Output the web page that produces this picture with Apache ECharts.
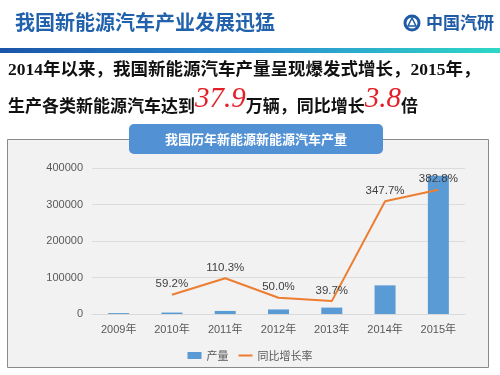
<!DOCTYPE html>
<html>
<head>
<meta charset="utf-8">
<script src="https://cdn.jsdelivr.net/npm/echarts@6/dist/echarts.min.js"></script>
<style>
  html, body { margin: 0; padding: 0; background: #fff; }
  #main { width: 500px; height: 375px; }
</style>
</head>
<body>
<div id="main"></div>
<script>
// 数据
const years = ['2009年', '2010年', '2011年', '2012年', '2013年', '2014年', '2015年'];
const output = [2499, 3979, 8368, 12552, 17533, 78499, 378980];
const growth = [null, 59.2, 110.3, 50.0, 39.7, 347.7, 382.8];

const CJK = '"Noto Sans CJK SC", sans-serif';
const SANS = '"Liberation Sans", "Noto Sans CJK SC", sans-serif';

const chart = echarts.init(document.getElementById('main'));

chart.setOption({
  animation: false,
  color: ['#5B9BD5', '#ED7D31'],
  textStyle: { fontFamily: SANS },
  graphic: [
    // 标题
    {
      type: 'text', left: 15, top: 12,
      style: { text: '我国新能源汽车产业发展迅猛', fill: '#2262AC', font: 'bold 20px ' + CJK }
    },
    // logo
    {
      type: 'circle', shape: { cx: 412, cy: 23, r: 7 },
      style: { fill: '#fff', stroke: '#1E5AA6', lineWidth: 3 }
    },
    {
      type: 'polygon', shape: { points: [[412, 18], [408, 26], [416, 26]] },
      style: { fill: 'none', stroke: '#1E5AA6', lineWidth: 1.5 }
    },
    {
      type: 'text', left: 426, top: 14,
      style: { text: '中国汽研', fill: '#1E5AA6', font: 'bold 17px ' + CJK }
    },
    // 渐变条
    {
      type: 'rect', shape: { x: 0, y: 48, width: 500, height: 5 },
      style: {
        fill: new echarts.graphic.LinearGradient(0, 0, 1, 0, [
          { offset: 0, color: '#1A55A8' },
          { offset: 0.5, color: '#2A8AD0' },
          { offset: 1, color: '#2ED8C6' }
        ])
      }
    },
    // 文字说明
    {
      type: 'text', left: 8, top: 62,
      style: {
        text: '2014年以来，我国新能源汽车产量呈现爆发式增长，2015年，',
        fill: '#111', font: 'bold 17.5px "Liberation Serif", "Noto Sans CJK SC", serif'
      }
    },
    {
      type: 'text', left: 8, top: 85,
      style: {
        text: '{a|生产各类新能源汽车达到}{r|37.9}{a|万辆，同比增长}{r|3.8}{a|倍}',
        rich: {
          a: { fill: '#111', font: 'bold 17px ' + CJK, verticalAlign: 'bottom' },
          r: { fill: '#E3202A', font: 'italic 29px "Liberation Serif", serif', verticalAlign: 'bottom' }
        }
      }
    },
    // 图表面板
    {
      type: 'rect', shape: { x: 7.5, y: 139.5, width: 481, height: 228 },
      style: { fill: '#F2F2F2', stroke: '#8A8A8A', lineWidth: 1 }
    },
    {
      type: 'rect', shape: { x: 129, y: 124, width: 254, height: 30, r: 5 },
      style: { fill: '#5291D4' }
    },
    {
      type: 'text', x: 256, y: 139,
      style: {
        text: '我国历年新能源新能源汽车产量', fill: '#fff',
        font: 'bold 13px ' + CJK, align: 'center', verticalAlign: 'middle'
      }
    }
  ],
  grid: { left: 92, right: 35, top: 168, bottom: 61 },
  legend: {
    bottom: 9, left: 'center',
    itemWidth: 14, itemHeight: 7, itemGap: 10,
    textStyle: { color: '#595959', fontSize: 11, fontFamily: CJK },
    data: [
      { name: '产量', icon: 'rect' },
      { name: '同比增长率', icon: 'path://M0,3 L14,3 L14,5 L0,5 Z' }
    ]
  },
  xAxis: {
    type: 'category',
    data: years,
    axisLine: { lineStyle: { color: '#D9D9D9' } },
    axisTick: { show: false },
    axisLabel: { color: '#595959', fontSize: 11, margin: 10 }
  },
  yAxis: [
    {
      type: 'value', min: 0, max: 400000, interval: 100000,
      axisLine: { show: false }, axisTick: { show: false },
      axisLabel: { color: '#595959', fontSize: 11, margin: 9, formatter: v => String(v) },
      splitLine: { lineStyle: { color: '#DCDCDC' } }
    },
    {
      type: 'value', min: 0, max: 450, show: false,
      splitLine: { show: false }
    }
  ],
  series: [
    {
      name: '产量', type: 'bar', data: output, barWidth: 21,
      itemStyle: { color: '#5B9BD5' }
    },
    {
      name: '同比增长率', type: 'line', yAxisIndex: 1, data: growth,
      symbol: 'circle', symbolSize: 0, showSymbol: true, connectNulls: false, z: 3,
      lineStyle: { color: '#ED7D31', width: 2 },
      itemStyle: { color: '#ED7D31' },
      label: {
        show: true, position: 'top', distance: 5,
        color: '#404040', fontSize: 11.5,
        formatter: p => p.value.toFixed(1) + '%'
      }
    }
  ]
});
</script>
</body>
</html>
